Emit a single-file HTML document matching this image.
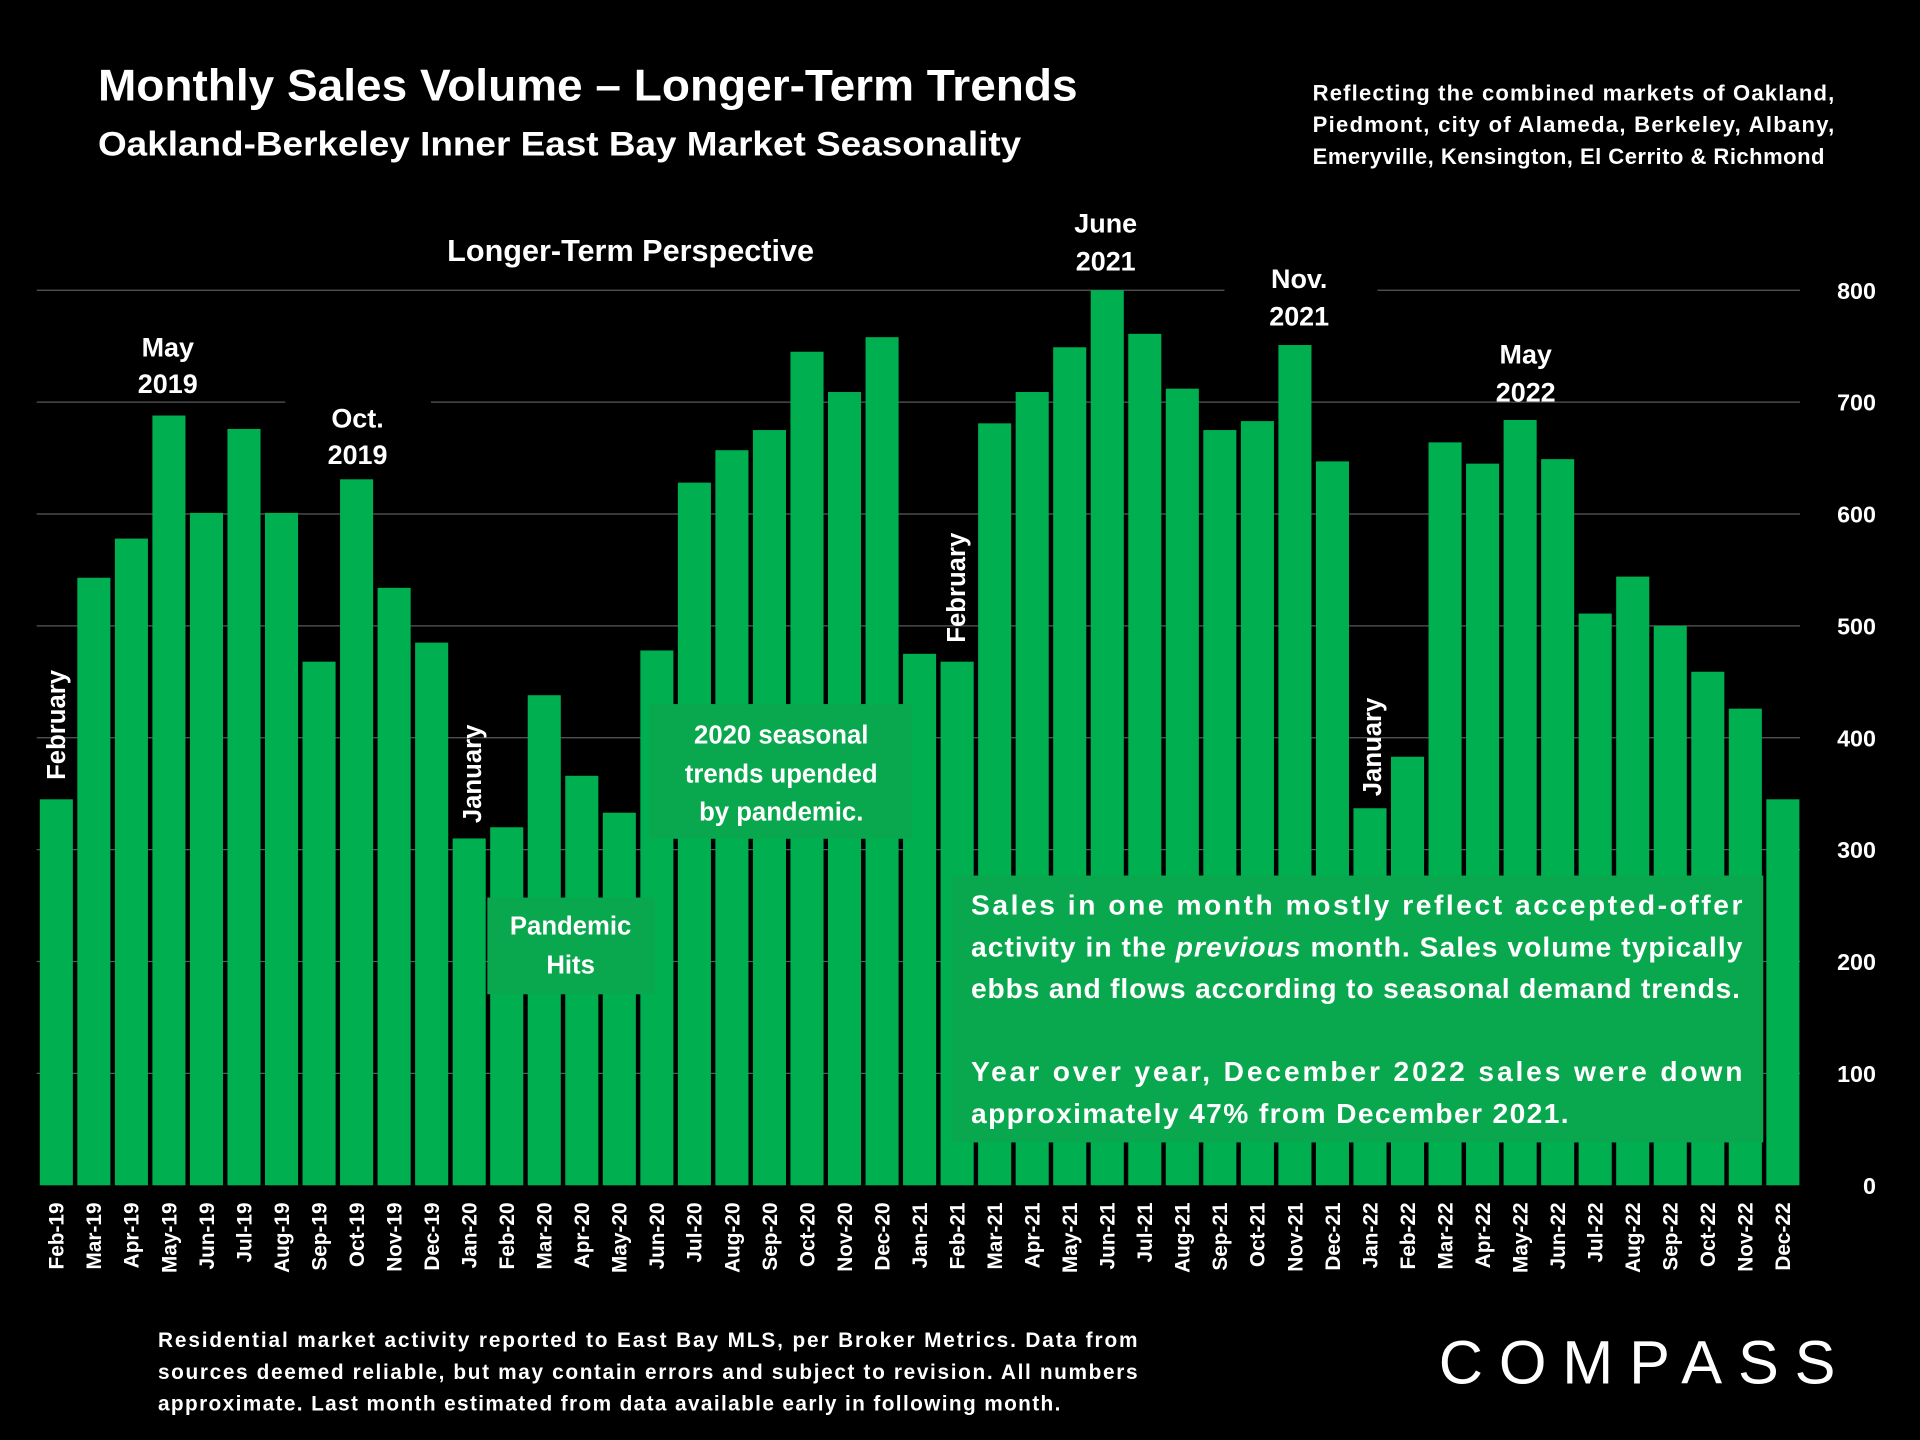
<!DOCTYPE html>
<html><head><meta charset="utf-8"><style>
html,body{margin:0;padding:0;background:#000;width:1920px;height:1440px;overflow:hidden}
svg{display:block}
text{font-family:"Liberation Sans",sans-serif;font-weight:bold;fill:#fff}
</style></head><body>
<svg id="chart" width="1920" height="1440" viewBox="0 0 1568 1176" xmlns="http://www.w3.org/2000/svg">
<rect width="1568" height="1176" fill="#000"/>
<text x="80" y="82" font-size="36" textLength="800" lengthAdjust="spacingAndGlyphs">Monthly Sales Volume – Longer-Term Trends</text>
<text x="80" y="127" font-size="28" textLength="754" lengthAdjust="spacingAndGlyphs">Oakland-Berkeley Inner East Bay Market Seasonality</text>
<g font-size="18">
<text x="1072" y="82" textLength="426" lengthAdjust="spacing">Reflecting the combined markets of Oakland,</text>
<text x="1072" y="108" textLength="426" lengthAdjust="spacing">Piedmont, city of Alameda, Berkeley, Albany,</text>
<text x="1072" y="134" textLength="418" lengthAdjust="spacing">Emeryville, Kensington, El Cerrito &amp; Richmond</text>
</g>
<g id="grid"></g>
<g id="bars"></g>
<g id="yticks"></g>
<g id="xticks"></g>
<text x="515" y="213" font-size="25" text-anchor="middle">Longer-Term Perspective</text>
<g font-size="22" text-anchor="middle">
<text x="137" y="291">May</text><text x="137" y="321">2019</text>
<text x="292" y="349">Oct.</text><text x="292" y="379">2019</text>
<text x="903" y="190">June</text><text x="903" y="221">2021</text>
<text x="1061" y="235">Nov.</text><text x="1061" y="266">2021</text>
<text x="1246" y="297">May</text><text x="1246" y="328">2022</text>
</g>
<g font-size="21" text-anchor="middle">
<text transform="translate(53,592) rotate(-90)">February</text>
<text transform="translate(393,632) rotate(-90)">January</text>
<text transform="translate(788,480) rotate(-90)">February</text>
<text transform="translate(1128,610) rotate(-90)">January</text>
</g>
<g>
<rect x="398" y="733" width="137" height="79" fill="#0aa84e"/>
<text x="466" y="763" font-size="21" text-anchor="middle">Pandemic</text>
<text x="466" y="795" font-size="21" text-anchor="middle">Hits</text>
</g>
<g>
<rect x="530" y="575" width="215" height="110" fill="#0aa84e"/>
<text x="638" y="607" font-size="21" text-anchor="middle">2020 seasonal</text>
<text x="638" y="639" font-size="21" text-anchor="middle">trends upended</text>
<text x="638" y="670" font-size="21" text-anchor="middle">by pandemic.</text>
</g>
<g font-size="23">
<rect x="778" y="715" width="662" height="218" fill="#0aa84e"/>
<text x="793" y="747" textLength="630" lengthAdjust="spacing">Sales in one month mostly reflect accepted-offer</text>
<text x="793" y="781" textLength="630" lengthAdjust="spacing">activity in the <tspan font-style="italic">previous</tspan> month. Sales volume typically</text>
<text x="793" y="815" textLength="628" lengthAdjust="spacing">ebbs and flows according to seasonal demand trends.</text>
<text x="793" y="883" textLength="630" lengthAdjust="spacing">Year over year, December 2022 sales were down</text>
<text x="793" y="917" textLength="488" lengthAdjust="spacing">approximately 47% from December 2021.</text>
</g>
<g font-size="17">
<text x="129" y="1100" textLength="800" lengthAdjust="spacing">Residential market activity reported to East Bay MLS, per Broker Metrics. Data from</text>
<text x="129" y="1126" textLength="800" lengthAdjust="spacing">sources deemed reliable, but may contain errors and subject to revision. All numbers</text>
<text x="129" y="1152" textLength="737" lengthAdjust="spacing">approximate. Last month estimated from data available early in following month.</text>
</g>
<text x="1175" y="1130" font-size="50" letter-spacing="6" textLength="330" lengthAdjust="spacing" style="font-weight:normal">COMPASS</text>
</svg>
<script>
const categories=["Feb-19","Mar-19","Apr-19","May-19","Jun-19","Jul-19","Aug-19","Sep-19","Oct-19","Nov-19","Dec-19","Jan-20","Feb-20","Mar-20","Apr-20","May-20","Jun-20","Jul-20","Aug-20","Sep-20","Oct-20","Nov-20","Dec-20","Jan-21","Feb-21","Mar-21","Apr-21","May-21","Jun-21","Jul-21","Aug-21","Sep-21","Oct-21","Nov-21","Dec-21","Jan-22","Feb-22","Mar-22","Apr-22","May-22","Jun-22","Jul-22","Aug-22","Sep-22","Oct-22","Nov-22","Dec-22"];
const salesValues=[345,543,578,688,601,676,601,468,631,534,485,310,320,438,366,333,478,628,657,675,745,709,758,475,468,681,709,749,800,761,712,675,683,751,647,337,383,664,645,684,649,511,544,500,459,426,345];
const yTicks=[0,100,200,300,400,500,600,700,800];
const NS="http://www.w3.org/2000/svg";
const y0=968,yScale=731/800,x0=46,step=(1456-46)/46,bw=27;
function yPos(v){return y0-v*yScale;}
function xPos(i){return x0+i*step;}
const grid=document.getElementById('grid'),bars=document.getElementById('bars'),yt=document.getElementById('yticks'),xt=document.getElementById('xticks');
yTicks.forEach(t=>{
  if(t>0){
    const segs=t===800?[[30,1000],[1125,1470]]:t===700?[[30,233],[352,1470]]:[[30,1470]];
    segs.forEach(s=>{
      const l=document.createElementNS(NS,'line');
      l.setAttribute('x1',s[0]);l.setAttribute('x2',s[1]);l.setAttribute('y1',yPos(t));l.setAttribute('y2',yPos(t));
      l.setAttribute('stroke','#595959');l.setAttribute('stroke-width','1');
      
      
      grid.appendChild(l);
    });
  }
  const tx=document.createElementNS(NS,'text');
  tx.setAttribute('x',1532);tx.setAttribute('y',yPos(t)+7);tx.setAttribute('text-anchor','end');tx.setAttribute('font-size','19');
  tx.textContent=t;
  
  
  yt.appendChild(tx);
});
categories.forEach((c,i)=>{
  const r=document.createElementNS(NS,'rect');
  const v=salesValues[i];
  r.setAttribute('x',xPos(i)-bw/2);r.setAttribute('width',bw);
  r.setAttribute('y',yPos(v));r.setAttribute('height',v*yScale);
  r.setAttribute('fill','#00b050');
  
  
  bars.appendChild(r);
  const t=document.createElementNS(NS,'text');
  t.setAttribute('transform','translate('+(xPos(i)+6)+',982) rotate(-90)');
  t.setAttribute('text-anchor','end');t.setAttribute('font-size','17');
  t.textContent=c;
  
  
  xt.appendChild(t);
});
</script>
</body></html>
